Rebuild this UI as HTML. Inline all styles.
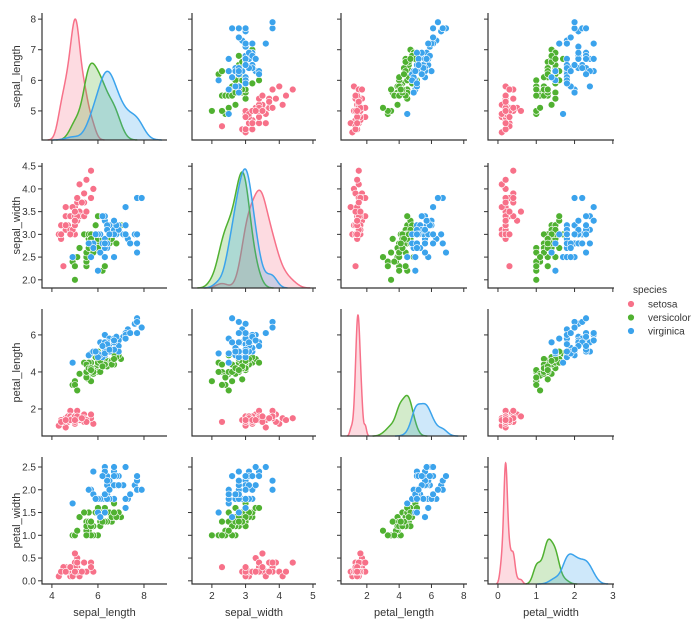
<!DOCTYPE html>
<html><head><meta charset="utf-8"><style>
html,body{margin:0;padding:0;background:#fff;}
svg text{font-family:"Liberation Sans",sans-serif;fill:#333;}
</style></head><body>
<svg id="chart" width="699" height="622" viewBox="0 0 699 622" xmlns="http://www.w3.org/2000/svg"></svg>
<script>
const varNames = ["sepal_length","sepal_width","petal_length","petal_width"];
const speciesNames = ["setosa","versicolor","virginica"];
const speciesColors = ["#f77189","#50b131","#3ba3ec"];
const sepalLength = [5.1,4.9,4.7,4.6,5.0,5.4,4.6,5.0,4.4,4.9,5.4,4.8,4.8,4.3,5.8,5.7,5.4,5.1,5.7,5.1,5.4,5.1,4.6,5.1,4.8,5.0,5.0,5.2,5.2,4.7,4.8,5.4,5.2,5.5,4.9,5.0,5.5,4.9,4.4,5.1,5.0,4.5,4.4,5.0,5.1,4.8,5.1,4.6,5.3,5.0,
7.0,6.4,6.9,5.5,6.5,5.7,6.3,4.9,6.6,5.2,5.0,5.9,6.0,6.1,5.6,6.7,5.6,5.8,6.2,5.6,5.9,6.1,6.3,6.1,6.4,6.6,6.8,6.7,6.0,5.7,5.5,5.5,5.8,6.0,5.4,6.0,6.7,6.3,5.6,5.5,5.5,6.1,5.8,5.0,5.6,5.7,5.7,6.2,5.1,5.7,
6.3,5.8,7.1,6.3,6.5,7.6,4.9,7.3,6.7,7.2,6.5,6.4,6.8,5.7,5.8,6.4,6.5,7.7,7.7,6.0,6.9,5.6,7.7,6.3,6.7,7.2,6.2,6.1,6.4,7.2,7.4,7.9,6.4,6.3,6.1,7.7,6.3,6.4,6.0,6.9,6.7,6.9,5.8,6.8,6.7,6.7,6.3,6.5,6.2,5.9];
const sepalWidth = [3.5,3.0,3.2,3.1,3.6,3.9,3.4,3.4,2.9,3.1,3.7,3.4,3.0,3.0,4.0,4.4,3.9,3.5,3.8,3.8,3.4,3.7,3.6,3.3,3.4,3.0,3.4,3.5,3.4,3.2,3.1,3.4,4.1,4.2,3.1,3.2,3.5,3.6,3.0,3.4,3.5,2.3,3.2,3.5,3.8,3.0,3.8,3.2,3.7,3.3,
3.2,3.2,3.1,2.3,2.8,2.8,3.3,2.4,2.9,2.7,2.0,3.0,2.2,2.9,2.9,3.1,3.0,2.7,2.2,2.5,3.2,2.8,2.5,2.8,2.9,3.0,2.8,3.0,2.9,2.6,2.4,2.4,2.7,2.7,3.0,3.4,3.1,2.3,3.0,2.5,2.6,3.0,2.6,2.3,2.7,3.0,2.9,2.9,2.5,2.8,
3.3,2.7,3.0,2.9,3.0,3.0,2.5,2.9,2.5,3.6,3.2,2.7,3.0,2.5,2.8,3.2,3.0,3.8,2.6,2.2,3.2,2.8,2.8,2.7,3.3,3.2,2.8,3.0,2.8,3.0,2.8,3.8,2.8,2.8,2.6,3.0,3.4,3.1,3.0,3.1,3.1,3.1,2.7,3.2,3.3,3.0,2.5,3.0,3.4,3.0];
const petalLength = [1.4,1.4,1.3,1.5,1.4,1.7,1.4,1.5,1.4,1.5,1.5,1.6,1.4,1.1,1.2,1.5,1.3,1.4,1.7,1.5,1.7,1.5,1.0,1.7,1.9,1.6,1.6,1.5,1.4,1.6,1.6,1.5,1.5,1.4,1.5,1.2,1.3,1.4,1.3,1.5,1.3,1.3,1.3,1.6,1.9,1.4,1.6,1.4,1.5,1.4,
4.7,4.5,4.9,4.0,4.6,4.5,4.7,3.3,4.6,3.9,3.5,4.2,4.0,4.7,3.6,4.4,4.5,4.1,4.5,3.9,4.8,4.0,4.9,4.7,4.3,4.4,4.8,5.0,4.5,3.5,3.8,3.7,3.9,5.1,4.5,4.5,4.7,4.4,4.1,4.0,4.4,4.6,4.0,3.3,4.2,4.2,4.2,4.3,3.0,4.1,
6.0,5.1,5.9,5.6,5.8,6.6,4.5,6.3,5.8,6.1,5.1,5.3,5.5,5.0,5.1,5.3,5.5,6.7,6.9,5.0,5.7,4.9,6.7,4.9,5.7,6.0,4.8,4.9,5.6,5.8,6.1,6.4,5.6,5.1,5.6,6.1,5.6,5.5,4.8,5.4,5.6,5.1,5.1,5.9,5.7,5.2,5.0,5.2,5.4,5.1];
const petalWidth = [0.2,0.2,0.2,0.2,0.2,0.4,0.3,0.2,0.2,0.1,0.2,0.2,0.1,0.1,0.2,0.4,0.4,0.3,0.3,0.3,0.2,0.4,0.2,0.5,0.2,0.2,0.4,0.2,0.2,0.2,0.2,0.4,0.1,0.2,0.2,0.2,0.2,0.1,0.2,0.2,0.3,0.3,0.2,0.6,0.4,0.3,0.2,0.2,0.2,0.2,
1.4,1.5,1.5,1.3,1.5,1.3,1.6,1.0,1.3,1.4,1.0,1.5,1.0,1.4,1.3,1.4,1.5,1.0,1.5,1.1,1.8,1.3,1.5,1.2,1.3,1.4,1.4,1.7,1.5,1.0,1.1,1.0,1.2,1.6,1.5,1.6,1.5,1.3,1.3,1.3,1.2,1.4,1.2,1.0,1.3,1.2,1.3,1.3,1.1,1.3,
2.5,1.9,2.1,1.8,2.2,2.1,1.7,1.8,1.8,2.5,2.0,1.9,2.1,2.0,2.4,2.3,1.8,2.2,2.3,1.5,2.3,2.0,2.0,1.8,2.1,1.8,1.8,1.8,2.1,1.6,1.9,2.0,2.2,1.5,1.4,2.3,2.4,1.8,1.8,2.1,2.4,2.3,1.9,2.3,2.5,2.3,1.9,2.0,2.3,1.8];
const speciesCounts = [50,50,50];
const xTicks = [[4,6,8],[2,3,4,5],[2,4,6,8],[0,1,2,3]];
const yTicks = [["5","6","7","8"],["2.0","2.5","3.0","3.5","4.0","4.5"],["2","4","6"],["0.0","0.5","1.0","1.5","2.0","2.5"]];
const xDomains = [[3.57,9.0],[1.41,5.09],[0.4,8.2],[-0.26,3.03]];
const yDomains = [[4.05,8.2],[1.82,4.57],[0.54,7.4],[-0.07,2.72]];

const NS="http://www.w3.org/2000/svg";
const svg=document.getElementById('chart');
const colLeft=[42,192,341,488], colW=[125,124,126,126];
const rowTop=[13,163,309,457], rowH=[127,125,127,127];
const cols=[sepalLength,sepalWidth,petalLength,petalWidth];
const species=[];speciesCounts.forEach((c,i)=>{for(let k=0;k<c;k++)species.push(i);});
function mk(t,a,p){const e=document.createElementNS(NS,t);for(const k in a)e.setAttribute(k,a[k]);(p||svg).appendChild(e);return e;}
function sx(c,v){const d=xDomains[c];return colLeft[c]+(v-d[0])/(d[1]-d[0])*colW[c];}
function sy(r,v){const d=yDomains[r];return rowTop[r]+rowH[r]-(v-d[0])/(d[1]-d[0])*rowH[r];}
function kde(vals){const n=vals.length;const m=vals.reduce((a,b)=>a+b)/n;const sd=Math.sqrt(vals.reduce((a,b)=>a+(b-m)*(b-m),0)/(n-1));const bw=sd*Math.pow(n,-0.2);
 const lo=Math.min(...vals)-3*bw,hi=Math.max(...vals)+3*bw;const pts=[];for(let i=0;i<=200;i++){const x=lo+(hi-lo)*i/200;let s=0;for(const v of vals)s+=Math.exp(-0.5*((x-v)/bw)**2);pts.push([x,s/(n*bw*Math.sqrt(2*Math.PI))]);}return pts;}

for(let r=0;r<4;r++)for(let c=0;c<4;c++){
  const g=mk('g',{});
  
  
  const L=colLeft[c],T=rowTop[r],W=colW[c],H=rowH[r];
  if(r===c){
    const curves=speciesNames.map((s,si)=>kde(cols[c].filter((v,i)=>species[i]===si)));
    let ymax=0;curves.forEach(cv=>cv.forEach(p=>{if(p[1]>ymax)ymax=p[1];}));ymax*=1.05;
    curves.forEach((cv,si)=>{
      const py=v=>T+H-v/ymax*H;
      let d=cv.map((p,i)=>(i?'L':'M')+sx(c,p[0]).toFixed(2)+','+py(p[1]).toFixed(2)).join('');
      const f=mk('path',{d:d+'L'+sx(c,cv[cv.length-1][0]).toFixed(2)+','+(T+H)+'L'+sx(c,cv[0][0]).toFixed(2)+','+(T+H)+'Z',fill:speciesColors[si],'fill-opacity':0.25,stroke:'none'},g);
      
      
      const l=mk('path',{d:d,fill:'none',stroke:speciesColors[si],'stroke-width':1.5},g);
      
      
    });
  } else {
    for(let i=0;i<species.length;i++){
      const p=mk('circle',{cx:sx(c,cols[c][i]).toFixed(2),cy:sy(r,cols[r][i]).toFixed(2),r:3.4,fill:speciesColors[species[i]],stroke:'#fff','stroke-width':0.6},g);
      
      
    }
  }
  const ax=mk('path',{d:`M${L},${T}V${T+H}H${L+W}`,fill:'none',stroke:'#333','stroke-width':1.2},g);
  
  
  xTicks[c].forEach(v=>{const x=sx(c,v);mk('line',{x1:x,x2:x,y1:T+H,y2:T+H+4,stroke:'#333','stroke-width':1},g);
    if(r===3){const t=mk('text',{x:x,y:T+H+15,'font-size':10,'text-anchor':'middle'},g);t.textContent=v;
      
      }});
  yTicks[r].forEach(s=>{const y=sy(r,parseFloat(s));mk('line',{x1:L-4,x2:L,y1:y,y2:y,stroke:'#333','stroke-width':1},g);
    if(c===0){const t=mk('text',{x:L-6,y:y+3.5,'font-size':10,'text-anchor':'end'},g);t.textContent=s;
      
      }});
  if(r===3){const t=mk('text',{x:L+W/2,y:616,'font-size':11,'text-anchor':'middle'},g);t.textContent=varNames[c];
    
    }
  if(c===0){const cy=T+H/2;const t=mk('text',{x:0,y:0,'font-size':11,'text-anchor':'middle',transform:`translate(20,${cy}) rotate(-90)`},g);t.textContent=varNames[r];
    
    }
}
const lg=mk('g',{});


const lt=mk('text',{x:650,y:293,'font-size':10,'text-anchor':'middle'},lg);lt.textContent='species';


speciesNames.forEach((s,i)=>{const y=304+i*13.5;
  const e=mk('g',{},lg);
  
  
  mk('circle',{cx:631,cy:y,r:3.4,fill:speciesColors[i],stroke:'#fff','stroke-width':0.6},e);
  const t=mk('text',{x:648,y:y+3.5,'font-size':10},e);t.textContent=s;});
</script>
</body></html>
